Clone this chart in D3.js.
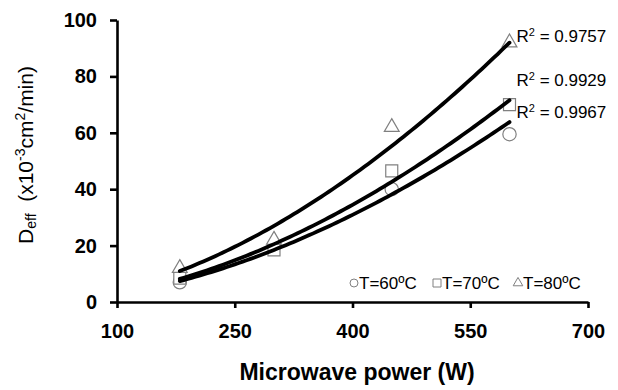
<!DOCTYPE html>
<html>
<head>
<meta charset="utf-8">
<script src="https://cdn.jsdelivr.net/npm/d3@7"></script>
<style>
	body { margin: 0; background: #fff; }
	text { font-family: "Liberation Sans", Arial, sans-serif; fill: #000; white-space: pre; }
	.tick-lbl { font-size: 20px; font-weight: bold; }
</style>
</head>
<body>
<svg id="chart" width="618" height="390"></svg>
<script>
// values
var power = [180, 300, 450, 600];
var deff60 = [7, 20, 40, 59.5];
var deff70 = [8.5, 18.5, 46.5, 70];
var deff80 = [12, 22, 62, 92];
var seriesNames = ['T=60ºC', 'T=70ºC', 'T=80ºC'];
var r2Values = ['0.9967', '0.9929', '0.9757'];
var xTicks = [100, 250, 400, 550, 700];
var yTicks = [0, 20, 40, 60, 80, 100];

var svg = d3.select('#chart');

var scaleX = d3.scaleLinear().domain([100, 700]).range([117, 588]);
var scaleY = d3.scaleLinear().domain([0, 100]).range([302, 20]);

var shapes = [d3.symbolCircle, d3.symbolSquare, d3.symbolTriangle];
var markSize = [140, 144, 95];
var legendSize = [50, 64, 40];
// R2 label placement (px from curve end), tuned by eye
var r2Dx = [7, 7, 7];
var r2Dy = [-10, -20, -7];

var series = [deff60, deff70, deff80].map(function (vals, i) {
	return {
		name: seriesNames[i],
		r2: r2Values[i],
		shape: shapes[i],
		points: power.map(function (p, j) { return { x: p, y: vals[j] }; })
	};
});

// excel style power trendline: ln y = ln a + b ln x
function powerFit(pts) {
	var lx = pts.map(function (d) { return Math.log(d.x); }),
		ly = pts.map(function (d) { return Math.log(d.y); }),
		mx = d3.mean(lx), my = d3.mean(ly),
		sxy = d3.sum(lx, function (v, i) { return (v - mx) * (ly[i] - my); }),
		sxx = d3.sum(lx, function (v) { return (v - mx) * (v - mx); }),
		b = sxy / sxx,
		a = Math.exp(my - b * mx);
	return function (x) { return a * Math.pow(x, b); };
}

// axes
var xAxis = svg.append('g')
	.attr('transform', 'translate(0,' + scaleY(0) + ')')
	.call(d3.axisBottom(scaleX).tickValues(xTicks).tickSize(6).tickSizeOuter(0).tickPadding(16));

var yAxis = svg.append('g')
	.attr('transform', 'translate(' + scaleX(100) + ',0)')
	.call(d3.axisLeft(scaleY).tickValues(yTicks).tickSize(7).tickSizeOuter(0).tickPadding(13));

[xAxis, yAxis].forEach(function (ax) {
	ax.select('.domain').attr('stroke', '#000').attr('stroke-width', 2.6);
	ax.selectAll('.tick line').attr('stroke', '#000').attr('stroke-width', 2.6);
	ax.selectAll('.tick text').attr('class', 'tick-lbl').attr('fill', '#000');
});

// markers
series.forEach(function (s, i) {
	svg.append('g').selectAll('path')
		.data(s.points)
		.enter().append('path')
		.attr('transform', function (d) { return 'translate(' + scaleX(d.x) + ',' + scaleY(d.y) + ')'; })
		.attr('d', d3.symbol().type(s.shape).size(markSize[i]))
		.attr('fill', '#fff')
		.attr('stroke', '#808080')
		.attr('stroke-width', 1.2);
});

// trendlines
var line = d3.line().x(function (d) { return scaleX(d.x); }).y(function (d) { return scaleY(d.y); });

series.forEach(function (s, i) {
	var f = powerFit(s.points);
	var xs = d3.range(power[0], power[power.length - 1] + 0.1, 5);
	var curve = xs.map(function (x) { return { x: x, y: f(x) }; });
	svg.append('path')
		.datum(curve)
		.attr('fill', 'none')
		.attr('stroke', '#000')
		.attr('stroke-width', 3.8)
		.attr('stroke-linecap', 'round')
		.attr('d', line);

	var end = curve[curve.length - 1];
	var lbl = svg.append('text')
		.attr('x', scaleX(end.x) + r2Dx[i])
		.attr('y', scaleY(end.y) + r2Dy[i])
		.attr('font-size', 17)
		.attr('dy', '0.35em');
	lbl.append('tspan').text('R');
	lbl.append('tspan').attr('font-size', 11).attr('dy', -6).text('2');
	lbl.append('tspan').attr('dy', 6).text(' = ' + s.r2);
});

// legend
var legend = svg.append('g').attr('transform', 'translate(0,283)');
var legendX = [354, 437, 518];
series.forEach(function (s, i) {
	legend.append('path')
		.attr('transform', 'translate(' + legendX[i] + ',0)')
		.attr('d', d3.symbol().type(s.shape).size(legendSize[i]))
		.attr('fill', '#fff')
		.attr('stroke', '#808080')
		.attr('stroke-width', 1);
	legend.append('text')
		.attr('x', legendX[i] + 5)
		.attr('y', 0)
		.attr('dy', '0.35em')
		.attr('font-size', 17)
		.text(s.name);
});

// axis titles
svg.append('text')
	.attr('x', 357)
	.attr('y', 380)
	.attr('text-anchor', 'middle')
	.attr('font-size', 23)
	.attr('font-weight', 'bold')
	.text('Microwave power (W)');

var yt = svg.append('text')
	.attr('transform', 'translate(33,155) rotate(-90)')
	.attr('text-anchor', 'middle')
	.attr('font-size', 21);
yt.append('tspan').text('D');
yt.append('tspan').attr('font-size', 14).attr('dy', 3).text('eff');
yt.append('tspan').attr('dy', -3).text('  (x10');
yt.append('tspan').attr('font-size', 14).attr('dy', -8).text('-3');
yt.append('tspan').attr('dy', 8).text('cm');
yt.append('tspan').attr('font-size', 14).attr('dy', -8).text('2');
yt.append('tspan').attr('dy', 8).text('/min)');
</script>
</body>
</html>
